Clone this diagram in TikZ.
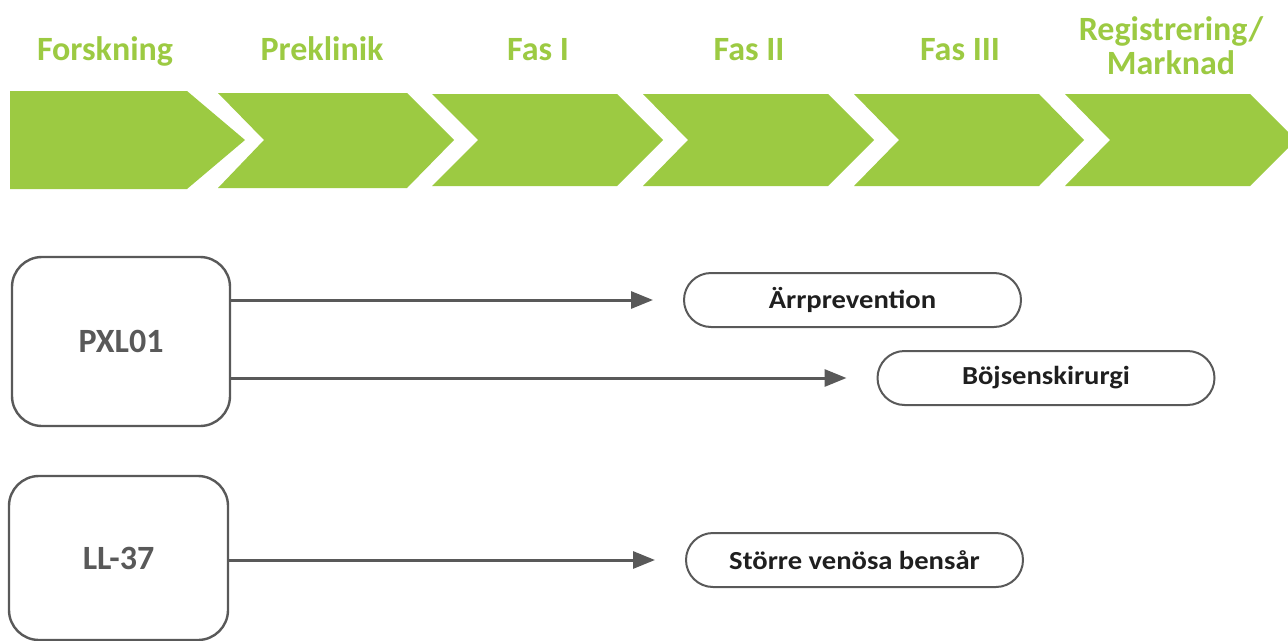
\documentclass[tikz,border=0pt]{standalone}
\usepackage{fontspec}
\setmainfont{Carlito}
\newfontfamily\pillfont[FakeStretch=1.1]{Carlito}
\usetikzlibrary{arrows.meta}
\definecolor{lime}{HTML}{9CCA42}
\definecolor{edge}{HTML}{595959}
\definecolor{ink}{HTML}{1F1F1F}
\tikzset{
  chev/.style={fill=lime, draw=none},
  phase/.style={text=lime, font=\fontsize{34}{35}\selectfont\bfseries, inner sep=0pt, align=center},
  drugbox/.style={draw=edge, line width=2.4pt, rounded corners=30pt, text=edge,
     font=\fontsize{34}{36}\selectfont\bfseries, inner sep=0pt},
  pill/.style={draw=edge, line width=2pt, rounded corners=27pt, text=ink,
     minimum width=337pt, minimum height=54pt, inner sep=0pt,
     font=\pillfont\fontsize{26}{28}\selectfont\bfseries},
  link/.style={draw=edge, line width=3pt, shorten >=30pt,
     -{Triangle[length=22pt,width=17pt]}}
}
\begin{document}
\begin{tikzpicture}[x=1pt,y=-1pt]
\clip (0,0) rectangle (1288,640);
\fill[white] (0,0) rectangle (1288,640);
% chevrons
\fill[chev] (10,91) -- (187,91) -- (245,140) -- (187,189) -- (10,189) -- cycle;
\fill[chev] (218,93) -- (407,93) -- (454,140) -- (407,188) -- (218,188) -- (264,140) -- cycle;
\fill[chev] (432,94) -- (617,94) -- (663,140) -- (617,186) -- (432,186) -- (478,140) -- cycle;
\fill[chev] (643,94) -- (828,94) -- (874,140) -- (828,186) -- (643,186) -- (688,140) -- cycle;
\fill[chev] (854,94) -- (1039,94) -- (1084,140) -- (1039,186) -- (854,186) -- (899,140) -- cycle;
\fill[chev] (1065,94) -- (1250,94) -- (1296,140) -- (1250,186) -- (1065,186) -- (1110,140) -- cycle;
% phase labels
\node[phase, anchor=base] (t1) at (105,60) {Forskning};
\node[phase, anchor=base] (t2) at (322,60) {Preklinik};
\node[phase, anchor=base] (t3) at (538,60) {Fas I};
\node[phase, anchor=base] (t4) at (749,60) {Fas II};
\node[phase, anchor=base] (t5) at (960,60) {Fas III};
\node[phase] (t6) at (1171,46) {Registrering/\\[-1pt]Marknad};
% drug boxes
\node[drugbox, minimum width=218pt, minimum height=169pt] (pxl) at (121,341.5) {PXL01};
\node[drugbox, minimum width=219pt, minimum height=164pt] (ll) at (118.5,558) {LL-37};
% indication pills
\node[pill] (p1) at (852.5,300) {Ärrprevention};
\node[pill] (p2) at (1046,378) {Böjsenskirurgi};
\node[pill] (p3) at (854.5,560) {Större venösa bensår};
% connectors
\draw[link] (pxl.east |- p1.west) -- (p1.west);
\draw[link] (pxl.east |- p2.west) -- (p2.west);
\draw[link] (ll.east |- p3.west) -- (p3.west);
\end{tikzpicture}
\end{document}
